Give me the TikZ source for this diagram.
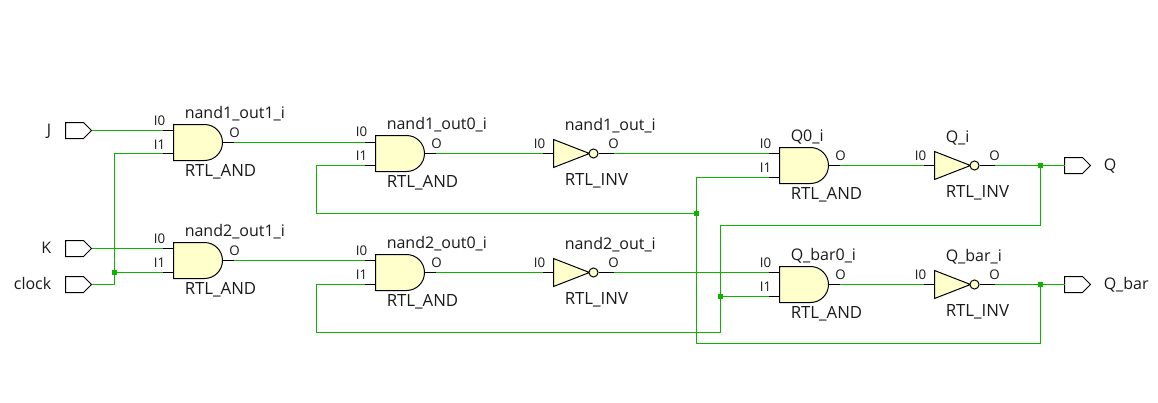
\documentclass[tikz,border=0pt]{standalone}
\usepackage{fontspec}
\setmainfont{Open Sans}
\definecolor{gatefill}{HTML}{FFFFCC}
\definecolor{wiregreen}{HTML}{0CB400}
\definecolor{textgrey}{HTML}{1A1A1A}
\tikzset{
  x=0.75pt,y=-0.75pt,
  gatebody/.style={draw=black,fill=gatefill,line width=0.75pt,line join=miter},
  stub/.style={draw=black,line width=0.75pt},
  wire/.style={draw=wiregreen,line width=0.75pt},
  portshape/.style={draw=black,fill=white,line width=0.75pt},
  dotjunction/.style={fill=wiregreen,draw=none,minimum size=3.75pt,inner sep=0pt,rectangle},
  cellname/.style={anchor=base west,inner sep=0pt,font=\fontsize{12pt}{14pt}\selectfont,text=textgrey},
  celltype/.style={cellname,font=\fontsize{12.6pt}{14pt}\selectfont},
  pinname/.style={anchor=base,inner sep=0pt,font=\fontsize{10pt}{12pt}\selectfont,text=textgrey},
  portname/.style={inner sep=0pt,font=\fontsize{12pt}{14pt}\selectfont,text=textgrey},
}
% AND gate: id, left x, top y, name, I0 offset, I1 offset
\newcommand{\andcell}[6]{%
  \path[gatebody] (#2,#3) -- ++(31,0) arc[start angle=90,end angle=-90,radius=18*0.75pt] -- ++(-31,0) -- cycle;
  \coordinate (#1i0) at (#2-11,#3+#5);
  \coordinate (#1i1) at (#2-11,#3+#6);
  \coordinate (#1o) at (#2+60,#3+18);
  \draw[stub] (#1i0) -- ++(11,0);
  \draw[stub] (#1i1) -- ++(11,0);
  \draw[stub] (#1o) -- ++(-11,0);
  \node[cellname] (#1name) at (#2+11,#3-6) {#4};
  \node[celltype] (#1type) at (#2+11,#3+52) {RTL\_AND};
  \node[pinname] (#1la) at (#2-14,#3+1) {I0};
  \node[pinname] (#1lb) at (#2-14,#3+25) {I1};
  \node[pinname] (#1lc) at (#2+61,#3+13) {O};
}
% inverter: id, left x, centre y, name
\newcommand{\invcell}[4]{%
  \path[gatebody] (#2,#3-14) -- (#2+36,#3) -- (#2,#3+14) -- cycle;
  \path[gatebody] (#2+40,#3) circle[radius=3.4pt];
  \coordinate (#1i0) at (#2-11,#3);
  \coordinate (#1o) at (#2+60,#3);
  \draw[stub] (#1i0) -- ++(11,0);
  \draw[stub] (#1o) -- ++(-15,0);
  \node[cellname] (#1name) at (#2+11,#3-23) {#4};
  \node[celltype] (#1type) at (#2+11,#3+32) {RTL\_INV};
  \node[pinname] (#1la) at (#2-14,#3-5) {I0};
  \node[pinname] (#1lc) at (#2+60,#3-5) {O};
}
\newcommand{\inport}[2]{%
  \path[portshape] (65,#2-8) -- (83,#2-8) -- (91,#2) -- (83,#2+8) -- (65,#2+8) -- cycle;
  \coordinate (#1) at (91,#2);
}
\newcommand{\outport}[2]{%
  \path[portshape] (1064,#2-8) -- (1082,#2-8) -- (1090,#2) -- (1082,#2+8) -- (1064,#2+8) -- cycle;
  \coordinate (#1) at (1064,#2);
}
\begin{document}
\begin{tikzpicture}
\useasboundingbox (-0.5,-0.5) rectangle (1157.5,402.5);
\fill[white] (-0.5,-0.5) rectangle (1157.5,402.5);

\andcell{ga}{173}{124}{nand1\_out1\_i}{6}{29}
\andcell{gb}{173}{242}{nand2\_out1\_i}{6}{30}
\andcell{gc}{375}{135}{nand1\_out0\_i}{7}{30}
\andcell{gd}{375}{254}{nand2\_out0\_i}{6}{30}
\andcell{ge}{779}{147}{Q0\_i}{6}{30}
\andcell{gf}{779}{266}{Q\_bar0\_i}{6}{30}
\invcell{ia}{553}{153}{nand1\_out\_i}
\invcell{ib}{553}{272}{nand2\_out\_i}
\invcell{ic}{934}{165}{Q\_i}
\invcell{id}{934}{284}{Q\_bar\_i}

\inport{pj}{130}
\inport{pk}{248}
\inport{pc}{284}
\outport{pq}{165}
\outport{pb}{284}

\node[portname,anchor=base east] (lj) at (51,135) {J};
\node[portname,anchor=base east] (lk) at (51,253) {K};
\node[portname,anchor=base east] (lc) at (51,289) {clock};
\node[portname,anchor=base west] (lq) at (1103,170) {Q};
\node[portname,anchor=base west] (lb) at (1103,289) {Q\_bar};

\coordinate (jclock) at (114,272);
\coordinate (jq) at (1040,165);
\coordinate (jb) at (1040,284);
\coordinate (jfa) at (696,213);
\coordinate (jfb) at (720,296);

% input wires
\draw[wire] (pj) -- (gai0);
\draw[wire] (pk) -- (gbi0);
\draw[wire] (pc) -| (jclock) |- (gai1);
\draw[wire] (jclock) -- (gbi1);
% stage wires
\draw[wire] (gao) -- (gci0);
\draw[wire] (gbo) -- (gdi0);
\draw[wire] (gco) -- (iai0);
\draw[wire] (gdo) -- (ibi0);
\draw[wire] (iao) -- (gei0);
\draw[wire] (ibo) -- (gfi0);
\draw[wire] (geo) -- (ici0);
\draw[wire] (gfo) -- (idi0);
\draw[wire] (ico) -- (pq);
\draw[wire] (ido) -- (pb);
% feedback
\draw[wire] (jq) -- (1040,225) -- (720,225) -- (720,332) -- (316,332) -- (316,284) -- (gdi1);
\draw[wire] (jfb) -- (gfi1);
\draw[wire] (jb) -- (1040,343) -- (696,343) -- (696,177) -- (gei1);
\draw[wire] (jfa) -- (316,213) -- (316,165) -- (gci1);

\foreach \j in {jclock,jq,jb,jfa,jfb} \node[dotjunction] at (\j) {};
\end{tikzpicture}
\end{document}
